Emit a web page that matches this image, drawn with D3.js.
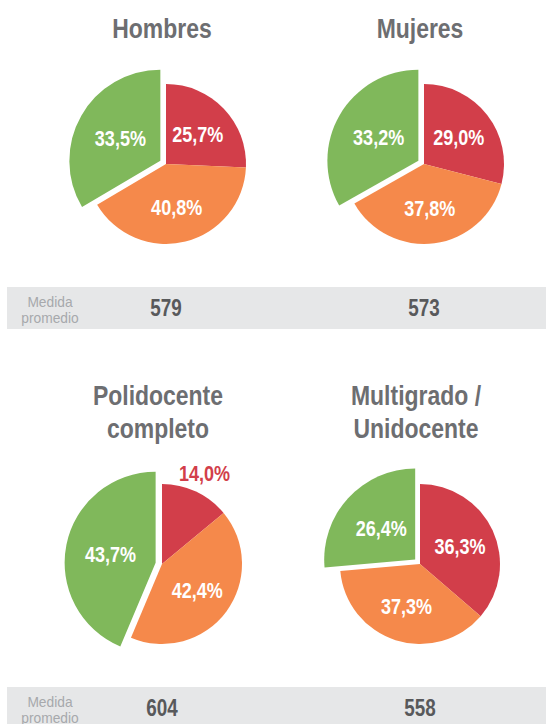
<!DOCTYPE html>
<html>
<head>
<meta charset="utf-8">
<script src="https://cdn.jsdelivr.net/npm/d3@7"></script>
<style>
  body { margin: 0; background: #fff; }
  svg { display: block; font-family: "Liberation Sans", Arial, sans-serif; }
</style>
</head>
<body>
<div id="chart"></div>
<script>
// chart data
const titles = [["Hombres"], ["Mujeres"], ["Polidocente", "completo"], ["Multigrado /", "Unidocente"]];
const redValues = [25.7, 29.0, 14.0, 36.3];
const orangeValues = [40.8, 37.8, 42.4, 37.3];
const greenValues = [33.5, 33.2, 43.7, 26.4];
const averages = [579, 573, 604, 558];
const bandLabel = ["Medida", "promedio"];

const colors = ["#d23e4a", "#f5894b", "#80b85b"];

const width = 546;
const height = 724;
const radius = 80;
const bigRadius = 91;   // highlighted (green) slice is drawn larger
const explode = 6.5;
const narrow = 0.82;    // fake a condensed face

// centres of the four pies
const centers = [
  [166, 164], [424, 164],
  [162, 564], [420, 564],
];

const svg = d3.select("#chart")
  .append("svg")
  .attr("width", width)
  .attr("height", height);

// text squeezed horizontally around its anchor point
function narrowText(parent, x, y, sx = narrow) {
  return parent.append("text")
    .attr("transform", `translate(${x},${y}) scale(${sx},1)`)
    .attr("text-anchor", "middle");
}

// grey "Medida promedio" bands, one per row
[164, 564].forEach((cy) => {
  svg.append("rect")
    .attr("x", 7)
    .attr("y", cy + 123)
    .attr("width", width - 7)
    .attr("height", 42)
    .attr("fill", "#e6e7e8");

  bandLabel.forEach((line, j) => {
    narrowText(svg, 50, cy + 143 + j * 16, 0.92)
      .attr("font-size", "15px")
      .attr("fill", "#a7a9ac")
      .text(line);
  });
});

const pie = d3.pie().sort(null).value((d) => d.value);

titles.forEach((lines, i) => {
  const [cx, cy] = centers[i];
  const data = [
    { key: "red", value: redValues[i] },
    { key: "orange", value: orangeValues[i] },
    { key: "green", value: greenValues[i] },
  ];
  const arcs = pie(data);

  const g = svg.append("g").attr("transform", `translate(${cx},${cy})`);

  const arc = d3.arc().innerRadius(0).outerRadius(radius);
  const bigArc = d3.arc().innerRadius(0).outerRadius(bigRadius);
  const labelArc = d3.arc().innerRadius(44).outerRadius(44);
  const bigLabelArc = d3.arc().innerRadius(46).outerRadius(46);
  const outerLabelArc = d3.arc().innerRadius(100).outerRadius(100);

  // offset along the bisector of a slice
  const shift = (d) => {
    if (d.data.key !== "green") return [0, 0];
    const a = (d.startAngle + d.endAngle) / 2;
    return [Math.sin(a) * explode, -Math.cos(a) * explode];
  };

  g.selectAll("path")
    .data(arcs)
    .enter()
    .append("path")
    .attr("transform", (d) => `translate(${shift(d)})`)
    .attr("d", (d) => (d.data.key === "green" ? bigArc(d) : arc(d)))
    .attr("fill", (d, j) => colors[j]);

  arcs.forEach((d, j) => {
    const [sx, sy] = shift(d);
    let p;
    if (d.data.key === "green") p = bigLabelArc.centroid(d);
    else if (d.data.value < 20) p = outerLabelArc.centroid(d);
    else p = labelArc.centroid(d);

    narrowText(g, p[0] + sx, p[1] + sy)
      .attr("dy", "0.36em")
      .attr("font-size", "22px")
      .attr("font-weight", "bold")
      .attr("fill", d.data.value < 20 ? colors[j] : "#fff")
      .text(d.data.value.toFixed(1).replace(".", ",") + "%");
  });

  // title above the pie, last line at a fixed distance
  lines.forEach((line, j) => {
    narrowText(svg, cx - 4, cy - 126 - (lines.length - 1 - j) * 33)
      .attr("font-size", "28px")
      .attr("font-weight", "bold")
      .attr("fill", "#6d6e71")
      .text(line);
  });

  // average score in the band
  narrowText(svg, cx, cy + 152)
    .attr("font-size", "23px")
    .attr("font-weight", "bold")
    .attr("fill", "#58595b")
    .text(averages[i]);
});
</script>
</body>
</html>
